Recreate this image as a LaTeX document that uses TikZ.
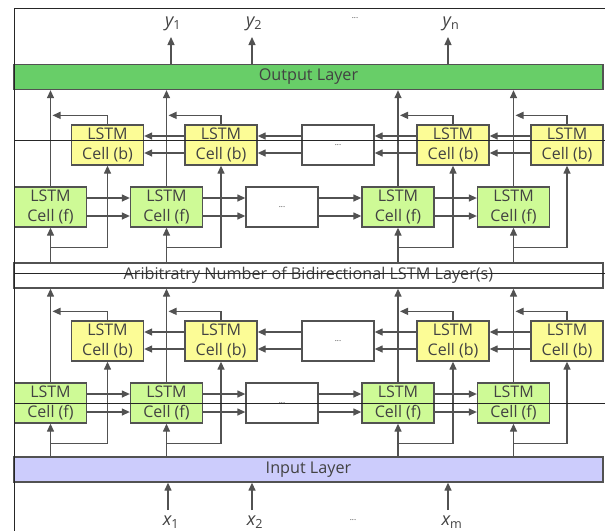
\documentclass[tikz,border=0pt]{standalone}
\usepackage{fontspec}
\setmainfont{Open Sans}
\usepackage{xcolor}
\usepackage{tikz}
\usetikzlibrary{arrows.meta,calc}
\definecolor{outgreen}{RGB}{104,206,104}
\definecolor{fwdgreen}{RGB}{206,250,150}
\definecolor{bwdyellow}{RGB}{252,252,150}
\definecolor{inlilac}{RGB}{204,204,252}
\definecolor{linegray}{RGB}{82,82,82}
\definecolor{textgray}{RGB}{66,66,66}
\tikzset{
  cellf/.style={draw=linegray,fill=fwdgreen,line width=1.3pt,minimum width=72pt,minimum height=40pt,
    inner sep=0pt,align=center,font=\fontsize{16}{19.5}\selectfont,text=textgray},
  cellb/.style={cellf,fill=bwdyellow},
  dotbox/.style={cellf,fill=white,font=\fontsize{8}{8}\selectfont,text depth=-7pt},
  layer/.style={draw=linegray,line width=1.3pt,minimum width=589pt,minimum height=25pt,
    inner sep=0pt,font=\fontsize{16.2}{17}\selectfont,text=textgray},
  arr/.style={-{Triangle[length=8pt,width=7pt]},line width=1.3pt,draw=linegray},
  seam/.style={line width=0.7pt,draw=black!85}
}

\begin{document}
\begin{tikzpicture}[
  x=1pt,y=-1pt,
  lbl/.style={font=\fontsize{18}{18}\selectfont\itshape,text=textgray,inner sep=1pt},
  gap/.style={font=\fontsize{8}{8}\selectfont,text=textgray}
]
\useasboundingbox (0,0) rectangle (605,531);

% layers
\node[layer,fill=outgreen] (out) at (308.5,77) {Output Layer};
\node[layer,fill=white] (mid) at (308.5,275.5) {Aribitratry Number of Bidirectional LSTM Layer(s)};
\node[layer,fill=inlilac] (inp) at (308.5,469.5) {Input Layer};

% two bidirectional blocks
\foreach \blk/\dy/\abv/\blw in {u/0/out/mid,l/196/mid/inp}{
  \begin{scope}[shift={(0,\dy)}]
    \node[cellb] (b1\blk) at (107.5,145) {LSTM\\Cell (b)};
    \node[cellb] (b2\blk) at (221,145) {LSTM\\Cell (b)};
    \node[dotbox] (b3\blk) at (338,145) {...};
    \node[cellb] (b4\blk) at (453,145) {LSTM\\Cell (b)};
    \node[cellb] (b5\blk) at (567,145) {LSTM\\Cell (b)};

    \node[cellf] (f1\blk) at (50.5,207) {LSTM\\Cell (f)};
    \node[cellf] (f2\blk) at (166.5,207) {LSTM\\Cell (f)};
    \node[dotbox] (f3\blk) at (282,207) {...};
    \node[cellf] (f4\blk) at (398,207) {LSTM\\Cell (f)};
    \node[cellf] (f5\blk) at (513.5,207) {LSTM\\Cell (f)};
  \end{scope}

  \foreach \col in {1,2,4,5}{
    \draw[arr] (f\col\blk.north) -- (f\col\blk.north |- \abv.south);
    \draw[arr] (f\col\blk.south |- \blw.north) -- (f\col\blk.south);
    \draw[arr] ($(f\col\blk.south)+(0,20)$) -| (b\col\blk.south);
    \draw[arr] (b\col\blk.north) |- ($(f\col\blk.north)+(2,-71)$);
  }

  \foreach \p/\q in {1/2,2/3,3/4,4/5}{
    \draw[arr] ($(f\p\blk.east)+(0,-9)$) -- ($(f\q\blk.west)+(0,-9)$);
    \draw[arr] ($(f\p\blk.east)+(0,9)$) -- ($(f\q\blk.west)+(0,9)$);
    \draw[arr] ($(b\q\blk.west)+(0,-9)$) -- ($(b\p\blk.east)+(0,-9)$);
    \draw[arr] ($(b\q\blk.west)+(0,8)$) -- ($(b\p\blk.east)+(0,8)$);
  }
}

% outputs
\coordinate (ty1) at (171,37);
\coordinate (ty2) at (252,37);
\coordinate (tyn) at (448,37);
\draw[arr] (out.north -| ty1) -- (ty1);
\draw[arr] (out.north -| ty2) -- (ty2);
\draw[arr] (out.north -| tyn) -- (tyn);
\node[lbl] (y1) at (173,24) {y\textsubscript{\upshape 1}};
\node[lbl] (y2) at (254,24) {y\textsubscript{\upshape 2}};
\node[lbl] (yn) at (451,24) {y\textsubscript{\upshape n}};
\node[gap] (ydots) at (355,18) {...};

% inputs
\coordinate (tx1) at (168,510);
\coordinate (tx2) at (252,510);
\coordinate (txm) at (448,510);
\draw[arr] (tx1) -- (tx1 |- inp.south);
\draw[arr] (tx2) -- (tx2 |- inp.south);
\draw[arr] (txm) -- (txm |- inp.south);
\node[lbl] (x1) at (171,522) {x\textsubscript{\upshape 1}};
\node[lbl] (x2) at (255,522) {x\textsubscript{\upshape 2}};
\node[lbl] (xm) at (452,522) {x\textsubscript{\upshape m}};
\node[gap] (xdots) at (353,520) {...};

% frame and seams of the scan
\draw[seam] (605,8) -- (14,8) -- (14,531);
\draw[seam] (14,140) -- (605,140);
\draw[seam] (14,273) -- (605,273);
\draw[seam] (14,403) -- (605,403);

\end{tikzpicture}
\end{document}
